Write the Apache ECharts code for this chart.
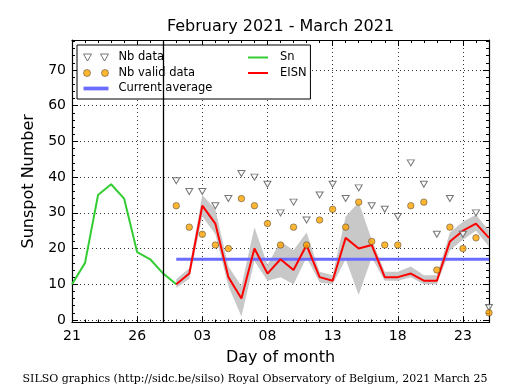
<!DOCTYPE html>
<html><head><meta charset="utf-8">
<script src="https://cdn.jsdelivr.net/npm/echarts@6/dist/echarts.min.js"></script>
<style>html,body{margin:0;padding:0;background:#fff}#c{width:515px;height:390px}</style>
</head><body><div id="c"></div>
<script>
// ---- data ----
const days = ['2021-02-21','2021-02-22','2021-02-23','2021-02-24','2021-02-25','2021-02-26','2021-02-27','2021-02-28',
  '2021-03-01','2021-03-02','2021-03-03','2021-03-04','2021-03-05','2021-03-06','2021-03-07','2021-03-08','2021-03-09',
  '2021-03-10','2021-03-11','2021-03-12','2021-03-13','2021-03-14','2021-03-15','2021-03-16','2021-03-17','2021-03-18',
  '2021-03-19','2021-03-20','2021-03-21','2021-03-22','2021-03-23','2021-03-24','2021-03-25'];
const separatorDay = '2021-02-28';
const snValues = [10,16,35,38,34,19,17,13,10,
  null,null,null,null,null,null,null,null,null,null,null,null,null,null,null,null,null,null,null,null,null,null,null,null];
const eisnValues = [null,null,null,null,null,null,null,null,
  10,13,32,27,12,6,20,13,17,14,21,12,11,23,20,21,12,12,13,11,11,22,25,27,23];
const bandLow = [null,null,null,null,null,null,null,null,
  9,11.5,29,24,9.5,1,16.5,11,12,10,17.5,10.5,10,17,7,17.5,11,11,12,10,10,19.5,22.5,25,20.5];
const bandHigh = [null,null,null,null,null,null,null,null,
  11.5,14.5,35,31,15,9.5,26,15.5,22,19.5,24.5,13.5,12.5,29,33,22.5,13.5,13.5,15,12.5,12.5,24.5,27.5,29.5,25];
const nbData = [null,null,null,null,null,null,null,null,
  39,36,36,32,34,41,40,38,30,33,28,35,38,34,37,32,31,29,44,38,24,34,24,30,3.5];
const nbValid = [null,null,null,null,null,null,null,null,
  32,26,24,21,20,34,32,27,21,26,21,28,31,26,33,22,21,21,32,33,14,26,20,23,2];
const avgValues = [null,null,null,null,null,null,null,null,
  17,17,17,17,17,17,17,17,17,17,17,17,17,17,17,17,17,17,17,17,17,17,17,17,17];
const yMajorTicks = [0,10,20,30,40,50,60,70];
const yMinorTicks = [0,2,4,6,8,10,12,14,16,18,20,22,24,26,28,30,32,34,36,38,40,42,44,46,48,50,52,54,56,58,60,62,64,66,68,70,72,74,76,78];

// ---- chart ----
const FONT = 'DejaVu Sans';
const black = '#000';
const chart = echarts.init(document.getElementById('c'), null, {renderer:'canvas'});
const frameLine = {show:true, onZero:false, lineStyle:{color:black, width:1.2}};
const dotted = {show:true, lineStyle:{color:black, type:[1,3], width:0.8}};
const baseX = {type:'category', data:days, boundaryGap:false, gridIndex:0};
const baseY = {type:'value', min:-0.7, max:78.4, gridIndex:0};
const tri2 = 'path://M0,0L8,0L4,7ZM17,0L25,0L21,7Z';
const dot2 = 'path://M0,3.5A3.5,3.5,0,1,1,7,3.5A3.5,3.5,0,1,1,0,3.5ZM18,3.5A3.5,3.5,0,1,1,25,3.5A3.5,3.5,0,1,1,18,3.5Z';
const line3 = 'path://M0,0L20,0L20,3L0,3Z';
const line2 = 'path://M0,0L20,0L20,2L0,2Z';
const legendText = {fontSize:11.5, fontFamily:FONT, color:black};

chart.setOption({
  animation:false,
  backgroundColor:'#fff',
  title:[
    {text:'February 2021 - March 2021', left:280.5, top:19, textAlign:'center', padding:0,
     textStyle:{fontSize:16, fontWeight:'normal', fontFamily:FONT, color:black}},
    {text:'SILSO graphics (http://sidc.be/silso) Royal Observatory of Belgium, 2021 March 25', left:255, top:374, textAlign:'center', padding:0,
     textStyle:{fontSize:11, fontWeight:'normal', fontFamily:'DejaVu Serif', color:black}}
  ],
  grid:{left:72, right:26, top:40, bottom:67.5, containLabel:false},
  legend:[
    {orient:'vertical', left:77, top:45, padding:[6.5,98,4.5,6], itemGap:3.5, itemWidth:25, itemHeight:8,
     borderColor:black, borderWidth:1, backgroundColor:'#fff', selectedMode:false,
     textStyle:Object.assign({padding:[0,0,0,5]}, legendText),
     data:[
       {name:'Nb data', icon:tri2, itemStyle:{color:'#fff', borderColor:'#555', borderWidth:1}},
       {name:'Nb valid data', icon:dot2, itemStyle:{color:'#ffa500', borderColor:'#333', borderWidth:0.6}},
       {name:'Current average', icon:line3, itemStyle:{color:'#6b6bff', borderWidth:0}}
     ]},
    {orient:'vertical', left:248, top:51.5, padding:0, itemGap:3.5, itemWidth:20, itemHeight:8, selectedMode:false,
     textStyle:Object.assign({padding:[0,0,0,7]}, legendText),
     data:[
       {name:'Sn', icon:line2, itemStyle:{color:'#33cc33', borderWidth:0}},
       {name:'EISN', icon:line2, itemStyle:{color:'#ff0000', borderWidth:0}}
     ]}
  ],
  xAxis:[
    Object.assign({}, baseX, {position:'bottom', name:'Day of month', nameLocation:'middle', nameGap:27,
      nameTextStyle:{fontSize:16, fontFamily:FONT, color:black},
      axisLine:frameLine,
      axisTick:{show:true, inside:true, length:6, interval:4, lineStyle:{color:black}},
      axisLabel:{show:true, interval:4, margin:7, fontSize:14, fontFamily:FONT, color:black, hideOverlap:false,
        formatter:v => v.slice(8)},
      splitLine:Object.assign({interval:4}, dotted)}),
    Object.assign({}, baseX, {position:'bottom', axisLine:{show:false, onZero:false},
      axisTick:{show:true, inside:true, length:3, interval:0, lineStyle:{color:black}},
      axisLabel:{show:false}, splitLine:{show:false}}),
    Object.assign({}, baseX, {position:'top', axisLine:frameLine,
      axisTick:{show:true, inside:true, length:6, interval:4, lineStyle:{color:black}},
      axisLabel:{show:false}, splitLine:{show:false}}),
    Object.assign({}, baseX, {position:'top', axisLine:{show:false, onZero:false},
      axisTick:{show:true, inside:true, length:3, interval:0, lineStyle:{color:black}},
      axisLabel:{show:false}, splitLine:{show:false}})
  ],
  yAxis:[
    Object.assign({}, baseY, {position:'left', name:'Sunspot Number', nameLocation:'middle', nameGap:33,
      nameTextStyle:{fontSize:16, fontFamily:FONT, color:black},
      axisLine:frameLine,
      axisTick:{show:true, inside:true, length:6, customValues:yMajorTicks, lineStyle:{color:black}},
      axisLabel:{show:true, customValues:yMajorTicks, margin:6, fontSize:14, fontFamily:FONT, color:black},
      splitLine:dotted}),
    Object.assign({}, baseY, {position:'left', axisLine:{show:false},
      axisTick:{show:true, inside:true, length:3, customValues:yMinorTicks, lineStyle:{color:black}},
      axisLabel:{show:false}, splitLine:{show:false}}),
    Object.assign({}, baseY, {position:'right', axisLine:frameLine,
      axisTick:{show:true, inside:true, length:6, customValues:yMajorTicks, lineStyle:{color:black}},
      axisLabel:{show:false}, splitLine:{show:false}}),
    Object.assign({}, baseY, {position:'right', axisLine:{show:false},
      axisTick:{show:true, inside:true, length:3, customValues:yMinorTicks, lineStyle:{color:black}},
      axisLabel:{show:false}, splitLine:{show:false}})
  ],
  series:[
    {name:'band-low', type:'line', data:bandLow, stack:'band', symbol:'none', silent:true,
     lineStyle:{width:0, opacity:0}, z:1},
    {name:'band', type:'line', data:bandLow.map((v,i) => v == null ? null : bandHigh[i] - v), stack:'band',
     symbol:'none', silent:true, lineStyle:{width:0, opacity:0}, areaStyle:{color:'#c8c8c8', opacity:1}, z:1},
    {name:'Current average', type:'line', data:avgValues, symbol:'none', showSymbol:false, silent:true,
     itemStyle:{color:'#6b6bff'}, lineStyle:{color:'#6b6bff', width:3}, z:2},
    {name:'Sn', type:'line', data:snValues, symbol:'none', showSymbol:false, silent:true,
     itemStyle:{color:'#33cc33'}, lineStyle:{color:'#33cc33', width:2}, z:3,
     markLine:{silent:true, symbol:'none', label:{show:false}, animation:false,
       lineStyle:{color:black, width:1.3, type:'solid'}, data:[{xAxis:separatorDay}]}},
    {name:'EISN', type:'line', data:eisnValues, symbol:'none', showSymbol:false, silent:true,
     itemStyle:{color:'#ff0000'}, lineStyle:{color:'#ff0000', width:2}, z:3},
    {name:'Nb data', type:'scatter', data:nbData, symbol:'triangle', symbolRotate:180, symbolSize:[7,6], silent:true,
     itemStyle:{color:'#fff', borderColor:'#555', borderWidth:1}, z:4},
    {name:'Nb valid data', type:'scatter', data:nbValid, symbol:'circle', symbolSize:6.5, silent:true,
     itemStyle:{color:'#ffa500', borderColor:'#333', borderWidth:0.6}, z:4}
  ]
});
</script>
</body></html>
